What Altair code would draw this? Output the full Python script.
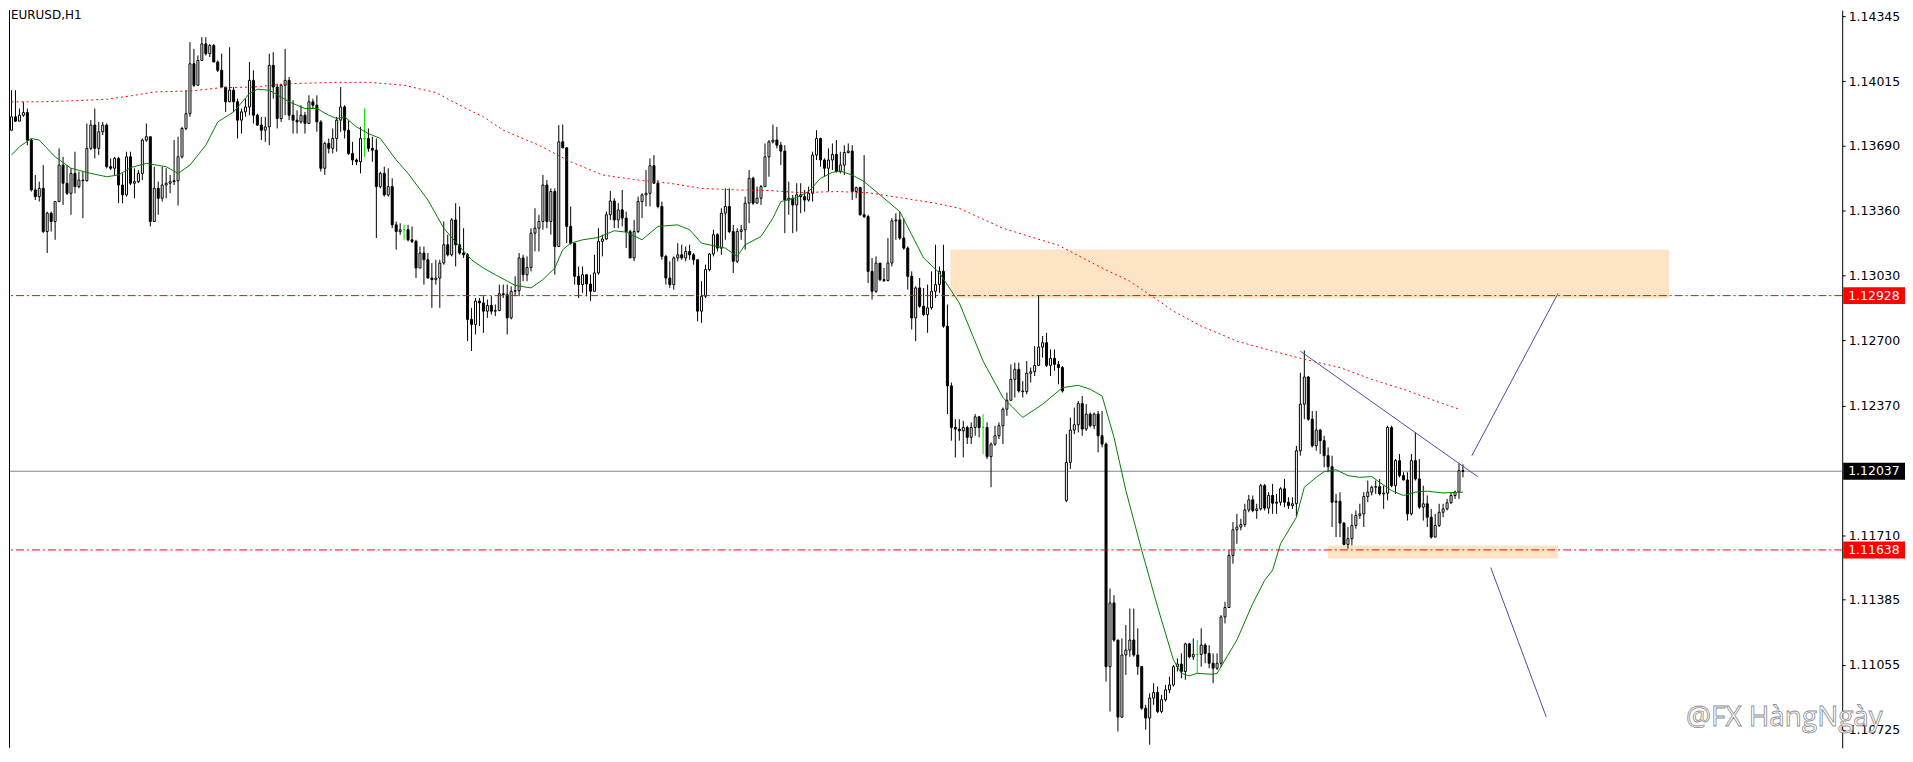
import altair as alt
import pandas as pd
import numpy as np

# ---------------- data (EURUSD H1) ----------------
closes = [
    1.13835, 1.13813, 1.13843, 1.13857, 1.13717, 1.13464, 1.13430, 1.13472, 1.13253, 1.13346,
    1.13304, 1.13405, 1.13590, 1.13498, 1.13447, 1.13548, 1.13481, 1.13514, 1.13511, 1.13675,
    1.13793, 1.13675, 1.13759, 1.13793, 1.13582, 1.13574, 1.13624, 1.13489, 1.13439, 1.13632,
    1.13498, 1.13506, 1.13548, 1.13717, 1.13734, 1.13304, 1.13472, 1.13422, 1.13489, 1.13498,
    1.13506, 1.13511, 1.13632, 1.13776, 1.13851, 1.14104, 1.13995, 1.14121, 1.14205, 1.14155,
    1.14197, 1.14113, 1.14071, 1.13986, 1.13911, 1.13970, 1.13911, 1.13818, 1.13860, 1.13885,
    1.14020, 1.13843, 1.13793, 1.13767, 1.13784, 1.14096, 1.13986, 1.13826, 1.13995, 1.14020,
    1.13843, 1.13818, 1.13809, 1.13843, 1.13801, 1.13911, 1.13894, 1.13809, 1.13574, 1.13700,
    1.13675, 1.13725, 1.13818, 1.13885, 1.13767, 1.13649, 1.13616, 1.13607, 1.13725, 1.13725,
    1.13675, 1.13666, 1.13481, 1.13548, 1.13439, 1.13481, 1.13287, 1.13253, 1.13262, 1.13262,
    1.13211, 1.13203, 1.13068, 1.13144, 1.13110, 1.13017, 1.13009, 1.13017, 1.13093, 1.13186,
    1.13135, 1.13312, 1.13186, 1.13144, 1.13135, 1.12807, 1.12782, 1.12900, 1.12891, 1.12849,
    1.12878, 1.12849, 1.12852, 1.12937, 1.12933, 1.12815, 1.12950, 1.12953, 1.13119, 1.13034,
    1.13071, 1.13245, 1.13270, 1.13304, 1.13489, 1.13304, 1.13456, 1.13177, 1.13708, 1.13678,
    1.13279, 1.13194, 1.13026, 1.12984, 1.13034, 1.12987, 1.12950, 1.13043, 1.13203, 1.13215,
    1.13338, 1.13408, 1.13312, 1.13363, 1.13321, 1.13253, 1.13119, 1.13253, 1.13405, 1.13439,
    1.13447, 1.13587, 1.13498, 1.13380, 1.13127, 1.13017, 1.12984, 1.13119, 1.13135, 1.13119,
    1.13152, 1.13135, 1.13110, 1.12849, 1.12925, 1.13060, 1.13139, 1.13237, 1.13169, 1.13346,
    1.13380, 1.13253, 1.13102, 1.13253, 1.13262, 1.13397, 1.13523, 1.13397, 1.13422, 1.13481,
    1.13632, 1.13708, 1.13717, 1.13691, 1.13661, 1.13413, 1.13422, 1.13388, 1.13439, 1.13430,
    1.13413, 1.13447, 1.13641, 1.13725, 1.13616, 1.13574, 1.13616, 1.13644, 1.13557, 1.13590,
    1.13654, 1.13661, 1.13456, 1.13476, 1.13338, 1.13329, 1.13051, 1.12950, 1.13093, 1.13009,
    1.13004, 1.13093, 1.13307, 1.13312, 1.13220, 1.13169, 1.13026, 1.12815, 1.12967, 1.12874,
    1.12832, 1.12866, 1.12950, 1.12984, 1.13051, 1.12773, 1.12470, 1.12259, 1.12251, 1.12242,
    1.12259, 1.12209, 1.12259, 1.12313, 1.12259, 1.12259, 1.12111, 1.12175, 1.12217, 1.12268,
    1.12352, 1.12397, 1.12503, 1.12554, 1.12444, 1.12441, 1.12534, 1.12542, 1.12574, 1.12667,
    1.12689, 1.12574, 1.12610, 1.12579, 1.12563, 1.12444, 1.12082, 1.12246, 1.12273, 1.12380,
    1.12251, 1.12327, 1.12268, 1.12327, 1.12217, 1.12175, 1.11046, 1.11369, 1.11181, 1.10790,
    1.11105, 1.11130, 1.11181, 1.11105, 1.11046, 1.10835, 1.10785, 1.10886, 1.10915, 1.10818,
    1.10878, 1.10928, 1.10953, 1.11046, 1.11059, 1.11021, 1.11161, 1.11096, 1.11108, 1.11108,
    1.11155, 1.11113, 1.11063, 1.11038, 1.11063, 1.11298, 1.11346, 1.11610, 1.11740, 1.11754,
    1.11767, 1.11841, 1.11892, 1.11838, 1.11846, 1.11964, 1.11850, 1.11914, 1.11875, 1.11880,
    1.11948, 1.11880, 1.11863, 1.11872, 1.12141, 1.12377, 1.12515, 1.12301, 1.12166, 1.12246,
    1.12192, 1.12116, 1.12060, 1.11880, 1.11885, 1.11774, 1.11666, 1.11695, 1.11762, 1.11813,
    1.11821, 1.11909, 1.11931, 1.11956, 1.11959, 1.11922, 1.11926, 1.12259, 1.11964, 1.12091,
    1.12015, 1.11993, 1.11821, 1.12091, 1.11998, 1.11855, 1.11872, 1.11804, 1.11703, 1.11762,
    1.11829, 1.11846, 1.11877, 1.11914, 1.11931, 1.12040, 1.12037,
]
highs = [
    1.13970, 1.13970, 1.13877, 1.13911, 1.13877, 1.13725, 1.13540, 1.13506, 1.13590, 1.13354,
    1.13354, 1.13405, 1.13675, 1.13632, 1.13590, 1.13574, 1.13658, 1.13557, 1.13557, 1.13801,
    1.13818, 1.13877, 1.13809, 1.13809, 1.13801, 1.13624, 1.13632, 1.13632, 1.13548, 1.13658,
    1.13658, 1.13574, 1.13565, 1.13725, 1.13801, 1.13734, 1.13582, 1.13506, 1.13582, 1.13574,
    1.13540, 1.13717, 1.13734, 1.13784, 1.13970, 1.14214, 1.14180, 1.14146, 1.14239, 1.14239,
    1.14205, 1.14205, 1.14121, 1.14155, 1.13986, 1.14188, 1.13986, 1.13927, 1.13877, 1.13927,
    1.14113, 1.14071, 1.13851, 1.13835, 1.13835, 1.14155, 1.14163, 1.14003, 1.14003, 1.14180,
    1.14037, 1.13919, 1.13868, 1.13894, 1.13860, 1.13944, 1.13927, 1.13944, 1.13818, 1.13708,
    1.13725, 1.13776, 1.13835, 1.13986, 1.13894, 1.13818, 1.13708, 1.13624, 1.13784, 1.13877,
    1.13776, 1.13734, 1.13725, 1.13557, 1.13582, 1.13574, 1.13523, 1.13304, 1.13295, 1.13287,
    1.13287, 1.13279, 1.13211, 1.13177, 1.13177, 1.13144, 1.13093, 1.13110, 1.13110, 1.13304,
    1.13237, 1.13321, 1.13397, 1.13380, 1.13270, 1.13144, 1.12866, 1.12916, 1.12916, 1.12925,
    1.12908, 1.12925, 1.12883, 1.12984, 1.12984, 1.12984, 1.12975, 1.13026, 1.13144, 1.13135,
    1.13127, 1.13270, 1.13371, 1.13338, 1.13540, 1.13514, 1.13472, 1.13472, 1.13793, 1.13796,
    1.13678, 1.13380, 1.13194, 1.13076, 1.13076, 1.13034, 1.13034, 1.13135, 1.13270, 1.13237,
    1.13354, 1.13459, 1.13422, 1.13397, 1.13464, 1.13354, 1.13262, 1.13312, 1.13430, 1.13447,
    1.13565, 1.13624, 1.13641, 1.13514, 1.13405, 1.13135, 1.13102, 1.13127, 1.13194, 1.13186,
    1.13177, 1.13186, 1.13144, 1.13110, 1.13001, 1.13085, 1.13144, 1.13262, 1.13245, 1.13371,
    1.13472, 1.13472, 1.13287, 1.13270, 1.13287, 1.13430, 1.13565, 1.13531, 1.13481, 1.13489,
    1.13700, 1.13717, 1.13796, 1.13784, 1.13708, 1.13691, 1.13506, 1.13439, 1.13498, 1.13498,
    1.13464, 1.13481, 1.13658, 1.13767, 1.13729, 1.13624, 1.13675, 1.13700, 1.13717, 1.13658,
    1.13691, 1.13700, 1.13691, 1.13481, 1.13481, 1.13641, 1.13338, 1.13119, 1.13127, 1.13093,
    1.13068, 1.13220, 1.13321, 1.13346, 1.13354, 1.13321, 1.13177, 1.13051, 1.12975, 1.13017,
    1.12967, 1.12984, 1.13051, 1.13186, 1.13076, 1.13186, 1.12883, 1.12487, 1.12301, 1.12301,
    1.12293, 1.12268, 1.12285, 1.12327, 1.12318, 1.12327, 1.12285, 1.12183, 1.12268, 1.12285,
    1.12360, 1.12436, 1.12579, 1.12588, 1.12588, 1.12495, 1.12596, 1.12563, 1.12672, 1.12928,
    1.12723, 1.12739, 1.12655, 1.12655, 1.12596, 1.12571, 1.12225, 1.12310, 1.12360, 1.12394,
    1.12419, 1.12377, 1.12335, 1.12335, 1.12343, 1.12343, 1.12183, 1.11442, 1.11408, 1.11181,
    1.11189, 1.11257, 1.11341, 1.11341, 1.11240, 1.11046, 1.10852, 1.10911, 1.10962, 1.10945,
    1.10903, 1.10953, 1.10995, 1.11054, 1.11088, 1.11113, 1.11167, 1.11167, 1.11189, 1.11181,
    1.11240, 1.11164, 1.11155, 1.11113, 1.11113, 1.11307, 1.11375, 1.11636, 1.11779, 1.11821,
    1.11796, 1.11872, 1.11917, 1.11914, 1.11872, 1.11973, 1.11973, 1.11931, 1.11973, 1.11922,
    1.11956, 1.11998, 1.11905, 1.11905, 1.12166, 1.12537, 1.12650, 1.12520, 1.12343, 1.12343,
    1.12251, 1.12217, 1.12158, 1.12116, 1.11922, 1.11931, 1.11779, 1.11754, 1.11821, 1.11838,
    1.11872, 1.11931, 1.11990, 1.11964, 1.11990, 1.11998, 1.11964, 1.12268, 1.12268, 1.12099,
    1.12124, 1.12032, 1.12032, 1.12124, 1.12234, 1.12099, 1.11964, 1.11914, 1.11846, 1.11821,
    1.11872, 1.11872, 1.11897, 1.11931, 1.11939, 1.12077, 1.12072,
]
lows = [
    1.13767, 1.13809, 1.13813, 1.13835, 1.13691, 1.13456, 1.13413, 1.13405, 1.13245, 1.13144,
    1.13253, 1.13211, 1.13405, 1.13388, 1.13439, 1.13338, 1.13447, 1.13472, 1.13321, 1.13506,
    1.13666, 1.13624, 1.13641, 1.13742, 1.13574, 1.13565, 1.13540, 1.13397, 1.13397, 1.13430,
    1.13489, 1.13422, 1.13498, 1.13514, 1.13708, 1.13279, 1.13304, 1.13338, 1.13405, 1.13422,
    1.13447, 1.13489, 1.13385, 1.13624, 1.13767, 1.13835, 1.13986, 1.13995, 1.14121, 1.14146,
    1.14138, 1.14113, 1.14062, 1.13986, 1.13860, 1.13911, 1.13860, 1.13725, 1.13750, 1.13835,
    1.13843, 1.13801, 1.13789, 1.13717, 1.13708, 1.13691, 1.13927, 1.13776, 1.13809, 1.13843,
    1.13818, 1.13750, 1.13750, 1.13801, 1.13750, 1.13801, 1.13877, 1.13759, 1.13557, 1.13540,
    1.13649, 1.13649, 1.13658, 1.13759, 1.13725, 1.13641, 1.13590, 1.13590, 1.13548, 1.13632,
    1.13658, 1.13607, 1.13220, 1.13472, 1.13430, 1.13430, 1.13270, 1.13161, 1.13236, 1.13211,
    1.13203, 1.13194, 1.13017, 1.13068, 1.12984, 1.13017, 1.12866, 1.12984, 1.12866, 1.13085,
    1.13127, 1.13127, 1.13076, 1.13135, 1.13119, 1.12697, 1.12647, 1.12731, 1.12773, 1.12739,
    1.12815, 1.12832, 1.12824, 1.12849, 1.12916, 1.12731, 1.12807, 1.12925, 1.12925, 1.13001,
    1.13001, 1.13051, 1.13152, 1.13152, 1.13262, 1.13270, 1.13237, 1.13034, 1.13177, 1.13675,
    1.13194, 1.13186, 1.12984, 1.12916, 1.12942, 1.12925, 1.12900, 1.12958, 1.13034, 1.13127,
    1.13211, 1.13312, 1.13270, 1.13270, 1.13279, 1.13169, 1.13119, 1.13102, 1.13245, 1.13321,
    1.13380, 1.13380, 1.13498, 1.13371, 1.13110, 1.12984, 1.12967, 1.12958, 1.13102, 1.13110,
    1.13102, 1.13110, 1.13085, 1.12798, 1.12790, 1.12916, 1.13051, 1.13127, 1.13152, 1.13135,
    1.13211, 1.13245, 1.13043, 1.13093, 1.13211, 1.13161, 1.13295, 1.13388, 1.13397, 1.13388,
    1.13481, 1.13531, 1.13700, 1.13675, 1.13590, 1.13245, 1.13338, 1.13245, 1.13253, 1.13346,
    1.13354, 1.13405, 1.13405, 1.13616, 1.13582, 1.13531, 1.13456, 1.13565, 1.13553, 1.13548,
    1.13540, 1.13649, 1.13413, 1.13422, 1.13334, 1.13321, 1.12992, 1.12908, 1.12942, 1.13001,
    1.12997, 1.13001, 1.13076, 1.13211, 1.13211, 1.13161, 1.12958, 1.12756, 1.12697, 1.12866,
    1.12824, 1.12739, 1.12857, 1.12916, 1.12942, 1.12765, 1.12327, 1.12192, 1.12108, 1.12192,
    1.12108, 1.12175, 1.12175, 1.12217, 1.12209, 1.12124, 1.12099, 1.11956, 1.12166, 1.12200,
    1.12175, 1.12318, 1.12394, 1.12411, 1.12436, 1.12411, 1.12428, 1.12487, 1.12520, 1.12571,
    1.12613, 1.12566, 1.12520, 1.12546, 1.12478, 1.12436, 1.11880, 1.12049, 1.12225, 1.12234,
    1.12217, 1.12242, 1.12259, 1.12251, 1.12133, 1.12158, 1.10970, 1.10818, 1.11172, 1.10717,
    1.10785, 1.11004, 1.11096, 1.11096, 1.11004, 1.10827, 1.10726, 1.10650, 1.10852, 1.10810,
    1.10810, 1.10869, 1.10911, 1.10945, 1.11021, 1.10987, 1.10979, 1.11088, 1.11080, 1.11012,
    1.11046, 1.11063, 1.11038, 1.10962, 1.11029, 1.11046, 1.11265, 1.11349, 1.11568, 1.11669,
    1.11737, 1.11754, 1.11829, 1.11829, 1.11796, 1.11838, 1.11838, 1.11821, 1.11821, 1.11821,
    1.11863, 1.11855, 1.11846, 1.11846, 1.11804, 1.12116, 1.12301, 1.12293, 1.12158, 1.12141,
    1.12124, 1.12057, 1.12032, 1.11754, 1.11703, 1.11703, 1.11661, 1.11644, 1.11661, 1.11745,
    1.11796, 1.11754, 1.11880, 1.11914, 1.11922, 1.11914, 1.11846, 1.11889, 1.11956, 1.11922,
    1.12006, 1.11990, 1.11787, 1.11813, 1.11990, 1.11846, 1.11787, 1.11754, 1.11695, 1.11703,
    1.11754, 1.11804, 1.11838, 1.11872, 1.11897, 1.11897, 1.12006,
]
first_open = 1.13767
open_gaps = {266: 1.11889}          # weekend gap opening

ma_fast = [  # green moving average (bar index, price)
    (0, 1.13641), (2, 1.13683), (5, 1.13725), (7, 1.13717), (11, 1.13632), (15, 1.13574),
    (20, 1.13548), (24, 1.13531), (27, 1.13540), (30, 1.13577), (34, 1.13599), (39, 1.13582),
    (42, 1.13548), (45, 1.13590), (49, 1.13691), (52, 1.13809), (56, 1.13860), (60, 1.13953),
    (62, 1.13975), (65, 1.13970), (70, 1.13911), (74, 1.13877), (77, 1.13877), (80, 1.13843),
    (82, 1.13826), (84, 1.13835), (87, 1.13784), (90, 1.13750), (93, 1.13725), (97, 1.13616),
    (100, 1.13548), (105, 1.13413), (109, 1.13270), (113, 1.13177), (116, 1.13110), (119, 1.13068),
    (122, 1.13034), (127, 1.12980), (131, 1.12967), (134, 1.13009), (137, 1.13068), (139, 1.13161),
    (141, 1.13194), (144, 1.13211), (148, 1.13223), (152, 1.13257), (155, 1.13250), (159, 1.13211),
    (163, 1.13279), (168, 1.13287), (171, 1.13262), (174, 1.13194), (178, 1.13177), (180, 1.13169),
    (183, 1.13127), (185, 1.13186), (189, 1.13228), (192, 1.13321), (194, 1.13405), (198, 1.13425),
    (201, 1.13456), (204, 1.13523), (207, 1.13553), (209, 1.13560), (212, 1.13540), (215, 1.13506),
    (219, 1.13439), (224, 1.13354), (227, 1.13237), (230, 1.13119), (234, 1.13043), (239, 1.12891),
    (245, 1.12596), (250, 1.12411), (255, 1.12310), (260, 1.12377), (265, 1.12461), (269, 1.12473),
    (272, 1.12453), (275, 1.12419), (278, 1.12209), (281, 1.11939), (285, 1.11636), (289, 1.11349),
    (293, 1.11080), (295, 1.11012), (297, 1.10999), (299, 1.11012), (303, 1.11007), (304, 1.11012),
    (309, 1.11181), (313, 1.11366), (316, 1.11484), (318, 1.11535), (320, 1.11669), (324, 1.11804),
    (326, 1.11956), (329, 1.12006), (331, 1.12035), (334, 1.12045), (337, 1.12015), (340, 1.12006),
    (343, 1.12010), (345, 1.11981), (348, 1.11939), (351, 1.11914), (354, 1.11931), (357, 1.11936),
    (361, 1.11927), (366, 1.11931),
]
ma_slow = [  # red dotted moving average (bar index, price)
    (0, 1.13911), (7, 1.13911), (15, 1.13916), (24, 1.13924), (30, 1.13941), (36, 1.13961),
    (45, 1.13966), (53, 1.13983), (61, 1.13986), (70, 1.14003), (82, 1.14010), (90, 1.14010),
    (99, 1.13995), (107, 1.13958), (115, 1.13873), (119, 1.13835), (124, 1.13767), (133, 1.13691),
    (141, 1.13607), (149, 1.13540), (158, 1.13514), (166, 1.13498), (174, 1.13472), (183, 1.13464),
    (191, 1.13461), (199, 1.13450), (208, 1.13456), (216, 1.13450), (224, 1.13425), (233, 1.13397),
    (239, 1.13371), (250, 1.13270), (264, 1.13183), (275, 1.13068), (282, 1.13001), (287, 1.12933),
    (293, 1.12849), (300, 1.12773), (306, 1.12723), (309, 1.12697), (318, 1.12647), (326, 1.12605),
    (335, 1.12563), (343, 1.12503), (351, 1.12453), (359, 1.12394), (365, 1.12352),
]
zone_x0 = [236.75, 332]
zone_x1 = [418, 390]
zone_top = [1.13162, 1.11661]
zone_bot = [1.12914, 1.11595]

red_levels = [1.12928, 1.11638]
bid_price = 1.12037

seg_x0 = [325, 368.25, 373]
seg_y0 = [1.12646, 1.12116, 1.11549]
seg_x1 = [369.75, 390, 387]
seg_y1 = [1.12009, 1.12940, 1.10791]

tick_values = [1.14345, 1.14015, 1.13690, 1.13360, 1.13030, 1.12700,
               1.12370, 1.11710, 1.11385, 1.11055, 1.10725]

tag_prices = [1.12928, 1.12037, 1.11638]
tag_colors = ["#FF0000", "#000000", "#FF0000"]

# ---------------- frames ----------------
n = min(len(closes), len(highs), len(lows))
df = pd.DataFrame({"i": np.arange(n), "close": closes[:n], "high": highs[:n], "low": lows[:n]})
df["open"] = df["close"].shift(1)
df.loc[0, "open"] = first_open
for k, v in open_gaps.items():
    if k < n:
        df.loc[k, "open"] = v
df["top"] = df[["high", "open", "close"]].max(axis=1)
df["bot"] = df[["low", "open", "close"]].min(axis=1)
df["kind"] = np.where((df["open"] - df["close"]).abs() < 1e-9, "doji",
                      np.where(df["close"] > df["open"], "bull", "bear"))

fast_df = pd.DataFrame(ma_fast, columns=["i", "v"])
slow_df = pd.DataFrame(ma_slow, columns=["i", "v"])
zones_df = pd.DataFrame({"x0": zone_x0, "x1": zone_x1, "top": zone_top, "bot": zone_bot})
lev_df = pd.DataFrame({"p": red_levels})
bid_df = pd.DataFrame({"p": [bid_price]})
seg_df = pd.DataFrame({"x0": seg_x0, "y0": seg_y0, "x1": seg_x1, "y1": seg_y1})
tag_df = pd.DataFrame({"p": tag_prices, "c": tag_colors,
                       "label": [f"{p:.5f}" for p in tag_prices]})
one = pd.DataFrame({"a": [0]})

# ---------------- scales ----------------
W, H = 1839, 740
FONT = "DejaVu Sans"
xs = alt.Scale(domain=[0.625, 460.375], nice=False, zero=False)
ys = alt.Scale(domain=[1.10634, 1.14376], nice=False, zero=False)
yaxis = alt.Axis(orient="right", values=tick_values, format=".5f", title=None, grid=False,
                 domainColor="#000000", domainWidth=1, tickColor="#000000", tickSize=3,
                 labelPadding=3, labelFont=FONT, labelFontSize=12.5, labelColor="#000000",
                 labelOverlap=False, labelFlush=False, labelBound=False)

X = lambda f: alt.X(f, type="quantitative", scale=xs, axis=None)
Y = lambda f: alt.Y(f, type="quantitative", scale=ys, axis=yaxis)

kinds = ["bull", "bear", "doji"]

zones = alt.Chart(zones_df).mark_rect(color="#FDE4C5", clip=True).encode(
    x=X("x0"), x2="x1", y=Y("top"), y2="bot")

bid = alt.Chart(bid_df).mark_rule(color="#778899", strokeWidth=1).encode(y=Y("p"))

wicks = alt.Chart(df).mark_rule(strokeWidth=1, clip=True).encode(
    x=X("i"),
    y=Y("bot"),
    y2="top",
    color=alt.Color("kind:N", scale=alt.Scale(domain=kinds, range=["#000000", "#000000", "#00E000"]),
                    legend=None),
)
bodies = alt.Chart(df).mark_bar(size=2, strokeWidth=1, clip=True).encode(
    x=X("i"), y=Y("open"), y2="close",
    fill=alt.Fill("kind:N", scale=alt.Scale(domain=kinds, range=["#FFFFFF", "#000000", "#00E000"]),
                  legend=None),
    stroke=alt.Stroke("kind:N", scale=alt.Scale(domain=kinds, range=["#000000", "#000000", "#00E000"]),
                      legend=None),
)

fast = alt.Chart(fast_df).mark_line(color="#008000", strokeWidth=1, clip=True).encode(
    x=X("i"), y=Y("v"))
slow = alt.Chart(slow_df).mark_line(color="#FF0000", strokeWidth=1, strokeDash=[2, 3], clip=True).encode(
    x=X("i"), y=Y("v"))

levels = alt.Chart(lev_df).mark_rule(color="#FF0000", strokeWidth=1, strokeDash=[8, 3, 2, 3]).encode(
    y=Y("p"))

segs = alt.Chart(seg_df).mark_rule(color="#4B4BA5", strokeWidth=1, clip=True).encode(
    x=X("x0"), y=Y("y0"), x2="x1", y2="y1")

left_border = alt.Chart(one).mark_rule(color="#000000", strokeWidth=1).encode(
    x=alt.value(0.5), y=alt.value(0), y2=alt.value(H))

tag_boxes = alt.Chart(tag_df).mark_rect(yOffset=-8.5, y2Offset=8.5).encode(
    x=alt.value(W + 1), x2=alt.value(W + 63), y=Y("p"), y2="p",
    color=alt.Color("c:N", scale=None))
tag_text = alt.Chart(tag_df).mark_text(align="left", baseline="middle", font=FONT,
                                        fontSize=12.5, color="#FFFFFF").encode(
    x=alt.value(W + 6), y=Y("p"), text="label:N")

title = alt.Chart(one).mark_text(text="EURUSD,H1", align="left", baseline="top", font=FONT,
                                 fontSize=12, color="#000000").encode(
    x=alt.value(2), y=alt.value(0))

watermark = alt.Chart(one).mark_text(text="@FX HàngNgày", align="center", baseline="alphabetic",
                                     font="Open Sans", fontSize=28, fill="#FFFFFF",
                                     stroke="#8C8C8C", strokeWidth=0.8).encode(
    x=alt.value(1781), y=alt.value(718))

chart = alt.layer(
    zones, bid, wicks, bodies, fast, slow, levels, segs, left_border,
    tag_boxes, tag_text, title, watermark,
).properties(
    width=W, height=H, padding={"left": 0, "top": 0, "right": 0, "bottom": 0},
    background="#FFFFFF",
).configure_view(stroke=None)

chart.save("out.html", embed_options={"renderer": "svg", "actions": False})
